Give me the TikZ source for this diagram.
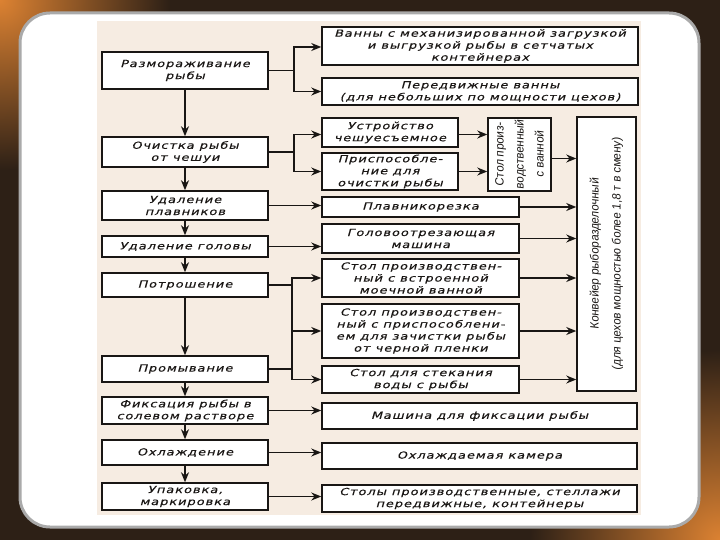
\documentclass[tikz,border=0pt]{standalone}
\usepackage{fontspec}
\usetikzlibrary{arrows.meta}
\newfontfamily\gost{DejaVu Sans}[FakeSlant=0.28,FakeStretch=1.32,LetterSpace=10,FakeBold=0.4]
\newfontfamily\narrowf{Liberation Sans}[FakeSlant=0.12,FakeStretch=0.95]
\definecolor{bgdark}{RGB}{45,32,22}
\definecolor{glow}{RGB}{220,130,50}
\definecolor{paper}{RGB}{246,236,226}
\definecolor{ink}{RGB}{25,22,20}
\definecolor{rim}{RGB}{170,170,170}
\tikzset{
  box/.style={draw=ink, fill=white, line width=1.5pt, inner sep=1pt, align=center,
    text=ink, font=\gost\fontsize{9.8}{12}\selectfont},
  rtext/.style={rotate=90, align=center, inner sep=0pt, text=ink,
    font=\narrowf\fontsize{12}{20}\selectfont},
  line/.style={draw=ink, line width=1.6pt},
  arr/.style={line, -{Stealth[length=10pt,width=8pt]}}
}
\begin{document}
\begin{tikzpicture}[x=1pt,y=-1pt]
\useasboundingbox (0,0) rectangle (720,540);
% background frame
\fill[bgdark] (0,0) rectangle (720,540);
\shade[inner color=glow, outer color=bgdark] (0,0) circle (170);
\shade[inner color=glow, outer color=bgdark] (720,540) circle (190);
\draw[rim, line width=3pt, fill=white, rounded corners=30] (20,13) rectangle (699,527);
\fill[paper] (97,21) rectangle (641,515);
% junctions
\coordinate (j1) at (294,0);
\coordinate (j2) at (292,0);
% left column
\node[box, minimum width=166, minimum height=37] (L1) at (185,70.5) {Размораживание\\рыбы};
\node[box, minimum width=166, minimum height=30] (L2) at (185,152) {Очистка рыбы\\от чешуи};
\node[box, minimum width=166, minimum height=29] (L3) at (185,205.5) {Удаление\\плавников};
\node[box, minimum width=166, minimum height=21] (L4) at (185,246.5) {Удаление головы};
\node[box, minimum width=166, minimum height=24] (L5) at (185,285) {Потрошение};
\node[box, minimum width=166, minimum height=26] (L6) at (185,369) {Промывание};
\node[box, minimum width=166, minimum height=27] (L7) at (185,410.5) {Фиксация рыбы в\\солевом растворе};
\node[box, minimum width=166, minimum height=25] (L8) at (185,452.5) {Охлаждение};
\node[box, minimum width=166, minimum height=27] (L9) at (185,496.5) {Упаковка,\\маркировка};
% middle column
\node[box, minimum width=316, minimum height=38] (R1) at (480,46) {Ванны с механизированной загрузкой\\и выгрузкой рыбы в сетчатых\\контейнерах};
\node[box, minimum width=316, minimum height=27] (R2) at (480,91.5) {Передвижные ванны\\(для небольших по мощности цехов)};
\node[box, minimum width=136, minimum height=29] (R3) at (390,132.5) {Устройство\\чешуесъемное};
\node[box, minimum width=136, minimum height=37] (R4) at (390,171.5) {Приспособле-\\ние для\\очистки рыбы};
\node[box, minimum width=197, minimum height=20] (R5) at (420.5,207) {Плавникорезка};
\node[box, minimum width=197, minimum height=29] (R6) at (420.5,238.5) {Головоотрезающая\\машина};
\node[box, minimum width=197, minimum height=38] (R7) at (420.5,278) {Стол производствен-\\ный с встроенной\\моечной ванной};
\node[box, minimum width=197, minimum height=54] (R8) at (420.5,331) {Стол производствен-\\ный с приспособлени-\\ем для зачистки рыбы\\от черной пленки};
\node[box, minimum width=197, minimum height=27] (R9) at (420.5,379.5) {Стол для стекания\\воды с рыбы};
\node[box, minimum width=315, minimum height=26] (R10) at (479.5,416) {Машина для фиксации рыбы};
\node[box, minimum width=315, minimum height=26] (R11) at (479.5,456) {Охлаждаемая камера};
\node[box, minimum width=315, minimum height=27] (R12) at (479.5,498.5) {Столы производственные, стеллажи\\передвижные, контейнеры};
% rotated boxes
\node[box, minimum width=63, minimum height=73] (T) at (519.5,154.5) {};
\node[rtext] (Tt) at (T) {Стол произ-\\водственный\\с ванной};
\node[box, minimum width=59, minimum height=274] (C) at (606.5,254) {};
\node[rtext, font=\narrowf\fontsize{12}{22}\selectfont] (Ct) at (C) {Конвейер рыборазделочный\\(для цехов мощностью более 1,8 т в смену)};
% vertical flow
\draw[arr] (L1) -- (L2);
\draw[arr] (L2) -- (L3);
\draw[arr] (L3) -- (L4);
\draw[arr] (L4) -- (L5);
\draw[arr] (L5) -- (L6);
\draw[arr] (L6) -- (L7);
\draw[arr] (L7) -- (L8);
\draw[arr] (L8) -- (L9);
% branches
\draw[line] (L1.east) -- (L1.east -| j1);
\draw[arr] (L1.east -| j1) |- ([yshift=-1pt]R1.west);
\draw[arr] (L1.east -| j1) |- (R2.west);
\draw[line] (L2.east) -- (L2.east -| j1);
\draw[arr] (L2.east -| j1) |- ([yshift=-2pt]R3.west);
\draw[arr] (L2.east -| j1) |- (R4.west);
\draw[arr] ([yshift=-2pt]R3.east) -- ([yshift=-2pt]R3.east -| T.west);
\draw[arr] (R4.east) -- (R4.east -| T.west);
\draw[arr] ([yshift=-4pt]T.east) -- ([yshift=-4pt]T.east -| C.west);
\draw[arr] (L3.east) -- (L3.east -| R5.west);
\draw[arr] (R5.east) -- (R5.east -| C.west);
\draw[arr] (L4.east) -- (L4.east -| R6.west);
\draw[arr] (R6.east) -- (R6.east -| C.west);
\draw[line] (L5.east) -- (L5.east -| j2);
\draw[line] (L6.east) -- (L6.east -| j2);
\draw[line] (L5.east -| j2) -- (L6.east -| j2);
\draw[arr] (L5.east -| j2) |- (R7.west);
\draw[arr] (L5.east -| j2) |- (R8.west);
\draw[arr] (L6.east -| j2) |- (R9.west);
\draw[arr] (R7.east) -- (R7.east -| C.west);
\draw[arr] (R8.east) -- (R8.east -| C.west);
\draw[arr] (R9.east) -- (R9.east -| C.west);
\draw[arr] (L7.east) -- (L7.east -| R10.west);
\draw[arr] (L8.east) -- (L8.east -| R11.west);
\draw[arr] (L9.east) -- (L9.east -| R12.west);
\end{tikzpicture}
\end{document}
